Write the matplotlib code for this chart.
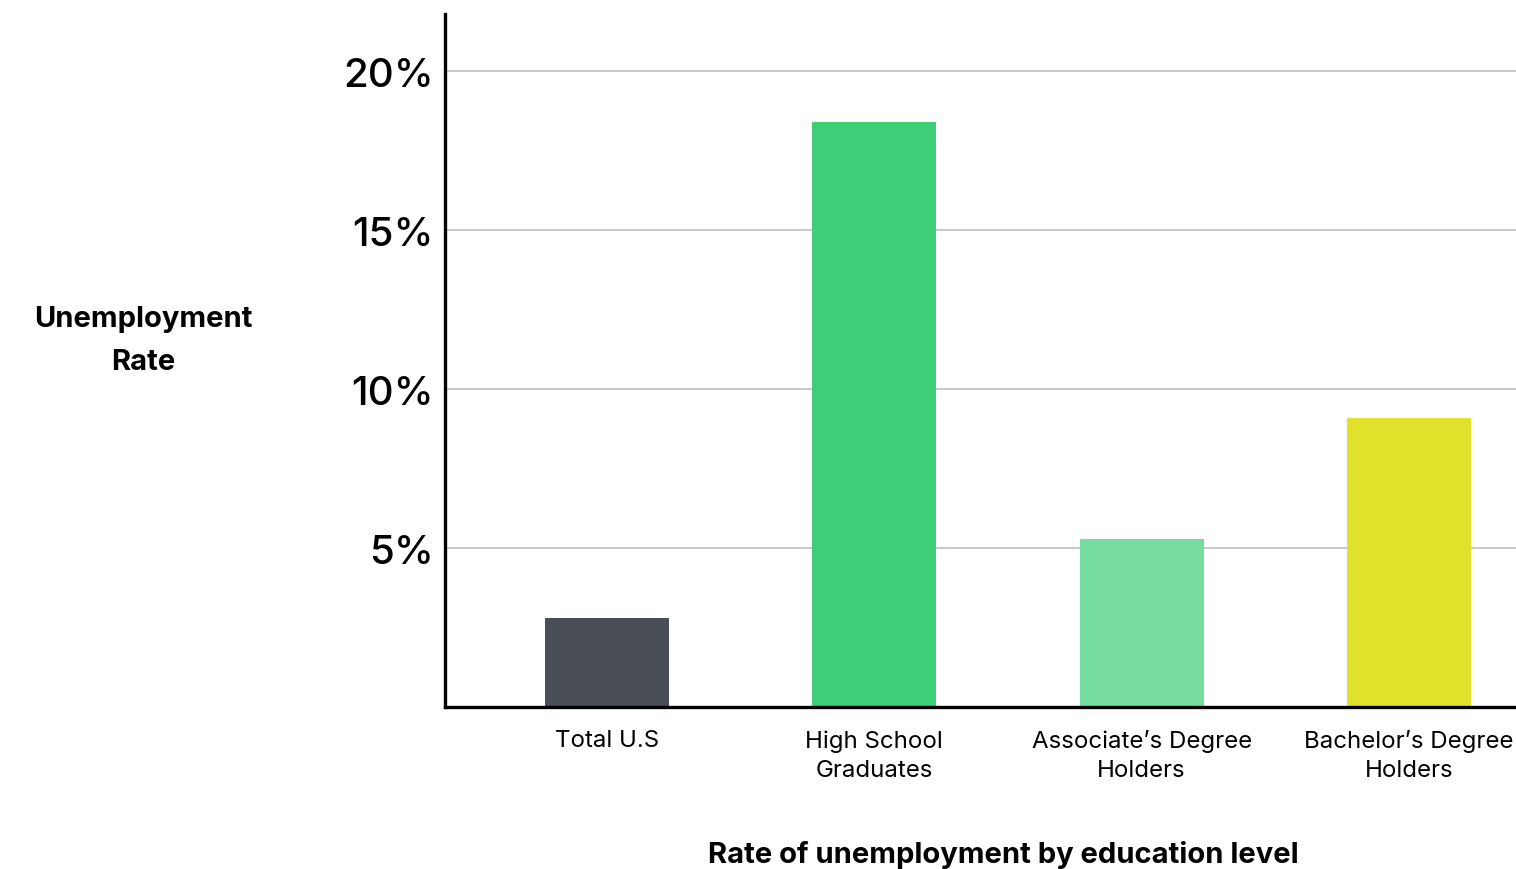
import matplotlib.pyplot as plt
import numpy as np

plt.rcParams["font.family"] = ["Inter", "DejaVu Sans"]

categories = ["Total U.S", "High School\nGraduates", "Associate\u2019s Degree\nHolders",
              "Bachelor\u2019s Degree\nHolders"]
rates = [2.8, 18.4, 5.3, 9.1]
colors = ["#4a4f56", "#3ccf78", "#77dca0", "#dfe12b"]
yticks = [5, 10, 15, 20]
ytick_labels = ["5%", "10%", "15%", "20%"]

W, H = 1516, 870
fig = plt.figure(figsize=(W / 100, H / 100), dpi=100)
ax = fig.add_axes([445 / W, 162 / H, (W - 445) / W, (855 - 162) / H])

x = np.arange(len(categories))
ax.bar(x, rates, width=0.463, color=colors, zorder=3)

ax.set_xlim(-0.605, 3.40)
ax.set_ylim(0, 21.8)
ax.set_xticks(x)
ax.set_xticklabels(categories, fontsize=17.3, linespacing=1.4)
ax.set_yticks(yticks)
ax.set_yticklabels(ytick_labels, fontsize=29, fontweight="medium")
ax.tick_params(axis="x", length=0, pad=16)
ax.tick_params(axis="y", length=0, pad=8)

ax.yaxis.grid(True, color="#c4c4c4", lw=1.3, zorder=0)
for side in ["top", "right"]:
    ax.spines[side].set_visible(False)
for side in ["left", "bottom"]:
    ax.spines[side].set_linewidth(2.4)
    ax.spines[side].set_color("black")
    ax.spines[side].set_zorder(4)

fig.text(143 / W, 1 - 341 / H, "Unemployment\nRate", ha="center", va="center",
         fontsize=21, fontweight="bold", linespacing=1.75)
fig.text(1003 / W, 1 - 855 / H, "Rate of unemployment by education level",
         ha="center", va="center", fontsize=21, fontweight="bold")

fig.savefig("out.png", dpi=100, facecolor="white")
